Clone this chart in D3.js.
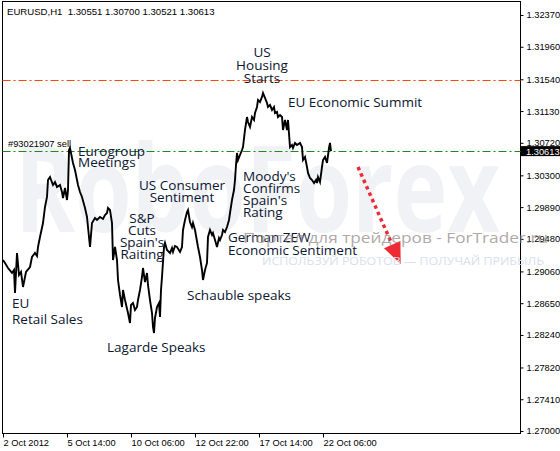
<!DOCTYPE html>
<html><head><meta charset="utf-8">
<script src="https://cdn.jsdelivr.net/npm/d3@7"></script>
<style>body{margin:0;background:#fff}svg{display:block}</style>
</head><body><svg id="c" width="560" height="451"></svg>
<script>
// ---------- data ----------
const symbol = "EURUSD,H1";
const ohlc = [1.30551, 1.30700, 1.30521, 1.30613];
// hours since first bar (2 Oct 2012 22:00), H1 close prices
const bars = [0,2,5,9,11,12,14,16,18,20,23,27,29,32,34,35,37,40,42,44,45,47,50,52,54,57,59,60,62,64,65,66,67,68,70,72,75,77,79,82,84,85,87,89,92,94,97,100,102,104,105,107,109,110,112,114,115,117,119,120,122,125,127,128,130,132,134,135,137,139,140,142,144,145,147,149,150,151,152,154,156,157,158,159,161,162,164,167,169,170,172,174,177,179,180,182,184,185,187,189,190,192,195,197,199,200,202,204,205,207,209,210,212,214,216,217,219,220,222,224,226,227,229,231,232,233,234,235,237,239,240,242,244,245,247,249,251,252,254,255,257,259,260,262,264,265,267,269,271,272,274,275,277,279,280,282,284,285,287,289,290,292,294,297,299,300,302,304,305,307,309,311,313,314,315,317,319,320,322,324,326,327,328];
const closes = [1.29207,1.29169,1.29104,1.29040,1.29078,1.28781,1.29298,1.29014,1.29053,1.28859,1.29053,1.29117,1.29246,1.29298,1.29259,1.29375,1.29504,1.29685,1.29892,1.30021,1.30240,1.30279,1.30176,1.30214,1.30150,1.30176,1.30085,1.30008,1.30137,1.29982,1.30111,1.30627,1.30653,1.30589,1.30460,1.30369,1.30176,1.30085,1.30021,1.29879,1.29763,1.29633,1.29375,1.29685,1.29750,1.29724,1.29763,1.29737,1.29788,1.29814,1.29879,1.29853,1.29685,1.29207,1.29375,1.29207,1.28949,1.28756,1.28601,1.28820,1.28691,1.28523,1.28394,1.28627,1.28652,1.28562,1.28601,1.28691,1.28820,1.28988,1.29104,1.28923,1.29040,1.28885,1.28691,1.28523,1.28343,1.28265,1.28459,1.28601,1.28652,1.28472,1.28820,1.28988,1.29375,1.29427,1.29337,1.29298,1.29362,1.29311,1.29388,1.29375,1.29311,1.29375,1.29595,1.29724,1.29827,1.29853,1.29698,1.29633,1.29685,1.29595,1.29375,1.29246,1.29078,1.28949,1.29078,1.29169,1.29504,1.29595,1.29530,1.29556,1.29466,1.29375,1.29491,1.29466,1.29530,1.29595,1.29569,1.29633,1.29724,1.29814,1.29982,1.30111,1.30240,1.30434,1.30589,1.30498,1.30563,1.30627,1.30666,1.30886,1.31053,1.30989,1.30924,1.31053,1.31015,1.31105,1.31183,1.31273,1.31247,1.31312,1.31363,1.31299,1.31234,1.31183,1.31208,1.31144,1.31183,1.31105,1.31118,1.31053,1.31079,1.31053,1.30886,1.31015,1.30886,1.31015,1.30666,1.30692,1.30653,1.30718,1.30692,1.30718,1.30666,1.30498,1.30537,1.30408,1.30331,1.30266,1.30240,1.30201,1.30240,1.30201,1.30279,1.30214,1.30408,1.30498,1.30537,1.30460,1.30653,1.30718,1.30613];
const yTicks = [1.32370,1.31960,1.31540,1.31130,1.30720,1.30300,1.29890,1.29480,1.29060,1.28650,1.28240,1.27820,1.27410,1.27000];
const xTickBars = [0,64,128,192,256,320];
const xTickLabels = ["2 Oct 2012","5 Oct 14:00","10 Oct 06:00","12 Oct 22:00","17 Oct 14:00","22 Oct 06:00"];
const currentPrice = 1.30613;
const resistanceLevel = 1.31530;
const orderLevel = 1.30613;
const orderLabel = "#93021907 sell";
const annotations = [
  {lines:["US","Housing","Starts"], bar:259, price:1.31828, anchor:"middle", dy:13},
  {lines:["EU Economic Summit"], bar:285, price:1.31183, anchor:"start", dy:13},
  {lines:["Eurogroup","Meetings"], bar:75, price:1.30550, anchor:"start", dy:11},
  {lines:["US Consumer","Sentiment"], bar:179, price:1.30111, anchor:"middle", dy:12},
  {lines:["S&P","Cuts","Spain's","Raiting"], bar:139, price:1.29685, anchor:"middle", dy:12},
  {lines:["Moody's","Confirms","Spain's","Rating"], bar:240, price:1.30227, anchor:"start", dy:12},
  {lines:["German ZEW","Economic Sentiment"], bar:225, price:1.29440, anchor:"start", dy:13},
  {lines:["Schauble speaks"], bar:184, price:1.28691, anchor:"start", dy:13},
  {lines:["Lagarde Speaks"], bar:104, price:1.28020, anchor:"start", dy:13},
  {lines:["EU","Retail Sales"], bar:9, price:1.28588, anchor:"start", dy:16}
];
const forecastFrom = {bar:355, price:1.30408};
const forecastTo = {bar:388, price:1.29440};
const watermark = "RoboForex";
const watermark2 = "Портал для трейдеров - ForTrader.ru";
const watermark3 = "ИСПОЛЬЗУЙ РОБОТОВ — ПОЛУЧАЙ ПРИБЫЛЬ";

// ---------- layout ----------
const L = 2.5, T = 1.5, R = 520.5, B = 433.5;
const svg = d3.select("#c");
const x = d3.scaleLinear().domain([0, 517]).range([3, 520]);
const y = d3.scaleLinear().domain([1.27000, 1.32370]).range([431, 15]);
const axisFont = "'Liberation Sans', Arial, sans-serif";
const annFont = "'Open Sans', sans-serif";

// watermark
svg.append("text").attr("x", 15).attr("y", 232).text(watermark)
  .attr("font-family", annFont).attr("font-weight", 700).attr("font-size", 120)
  .attr("textLength", 485).attr("lengthAdjust", "spacingAndGlyphs")
  .attr("fill", "#f0f2f6");

// frame
svg.append("rect").attr("x", L).attr("y", T).attr("width", R - L).attr("height", B - T)
  .attr("fill", "none").attr("stroke", "#000").attr("stroke-width", 1);

// header
svg.append("text").attr("x", 7).attr("y", 15)
  .attr("font-family", axisFont).attr("font-size", 9.6).attr("fill", "#000")
  .attr("xml:space", "preserve")
  .text(symbol + "  " + ohlc.map(v => v.toFixed(5)).join(" "));

// horizontal levels
svg.append("line").attr("x1", L).attr("x2", R).attr("y1", Math.round(y(resistanceLevel)) + 0.5).attr("y2", Math.round(y(resistanceLevel)) + 0.5)
  .attr("stroke", "#ff4500").attr("stroke-width", 1).attr("stroke-dasharray", "8,3,2,3");
svg.append("line").attr("x1", L).attr("x2", R).attr("y1", Math.round(y(orderLevel)) + 0.5).attr("y2", Math.round(y(orderLevel)) + 0.5)
  .attr("stroke", "#1a8a1a").attr("stroke-width", 1).attr("stroke-dasharray", "8,3,2,3");
svg.append("text").attr("x", 8).attr("y", y(orderLevel) - 4)
  .attr("font-family", axisFont).attr("font-size", 9.3).attr("fill", "#000").text(orderLabel);

// price line
const line = d3.line().x((d, i) => x(bars[i])).y(d => y(d));
svg.append("path").datum(closes).attr("d", line)
  .attr("fill", "none").attr("stroke", "#000").attr("stroke-width", 1.9).attr("stroke-linejoin", "miter");

// right axis
const yAxis = d3.axisRight(y).tickValues(yTicks).tickFormat(d => d.toFixed(5)).tickSize(3).tickPadding(3);
const ya = svg.append("g").attr("transform", `translate(${R},0)`).call(yAxis);
ya.select(".domain").remove();
ya.selectAll("text").attr("font-family", axisFont).attr("font-size", 9.3).attr("fill", "#000");
ya.selectAll("line").attr("stroke", "#000");

// bottom axis
const xAxis = d3.axisBottom(x).tickValues(xTickBars).tickFormat((d, i) => xTickLabels[i]).tickSize(4).tickPadding(2);
const xa = svg.append("g").attr("transform", `translate(0,${B})`).call(xAxis);
xa.select(".domain").remove();
xa.selectAll("text").attr("font-family", axisFont).attr("font-size", 9.3).attr("fill", "#000")
  .attr("text-anchor", "start").attr("dy", "0.75em");
xa.selectAll("line").attr("stroke", "#000");

// current price box
const cy = y(currentPrice);
svg.append("rect").attr("x", R + 0.5).attr("y", cy - 5).attr("width", 560 - R).attr("height", 10).attr("fill", "#000");
svg.append("text").attr("x", 526).attr("y", cy + 3.5)
  .attr("font-family", axisFont).attr("font-size", 9.3).attr("fill", "#fff").text(currentPrice.toFixed(5));

// annotations
annotations.forEach(a => {
  const t = svg.append("text").attr("font-family", annFont).attr("font-size", 13.5)
    .attr("fill", "#0b1630").attr("text-anchor", a.anchor);
  a.lines.forEach((s, i) => {
    t.append("tspan").attr("x", x(a.bar)).attr("y", y(a.price) + i * a.dy).text(s);
  });
});

// forecast arrow
const p0 = [x(forecastFrom.bar), y(forecastFrom.price)];
const p1 = [x(forecastTo.bar), y(forecastTo.price)];
svg.append("line").attr("x1", p0[0]).attr("y1", p0[1]).attr("x2", p1[0]).attr("y2", p1[1])
  .attr("stroke", "#ee2a35").attr("stroke-width", 3.5).attr("stroke-dasharray", "3.5,3.5");
const dx = p1[0] - p0[0], dyy = p1[1] - p0[1], len = Math.hypot(dx, dyy);
const ux = dx / len, uy = dyy / len, px = -uy, py = ux;
const bc = [p1[0] + ux * 3, p1[1] + uy * 3];
const tip = [p1[0] + ux * 24, p1[1] + uy * 24];
svg.append("polygon")
  .attr("points", [[bc[0] + px * 9, bc[1] + py * 9], [bc[0] - px * 9, bc[1] - py * 9], tip].map(p => p.join(",")).join(" "))
  .attr("fill", "#ee2a35");

// overlay watermarks
svg.append("text").attr("x", 243).attr("y", 243).text(watermark2)
  .attr("font-family", annFont).attr("font-size", 15).attr("textLength", 305).attr("lengthAdjust", "spacingAndGlyphs")
  .attr("fill", "#8f8585").attr("opacity", 0.7);
svg.append("text").attr("x", 262).attr("y", 265).text(watermark3)
  .attr("font-family", annFont).attr("font-size", 11).attr("textLength", 282).attr("lengthAdjust", "spacingAndGlyphs")
  .attr("fill", "#d8e1ec");
</script></body></html>
